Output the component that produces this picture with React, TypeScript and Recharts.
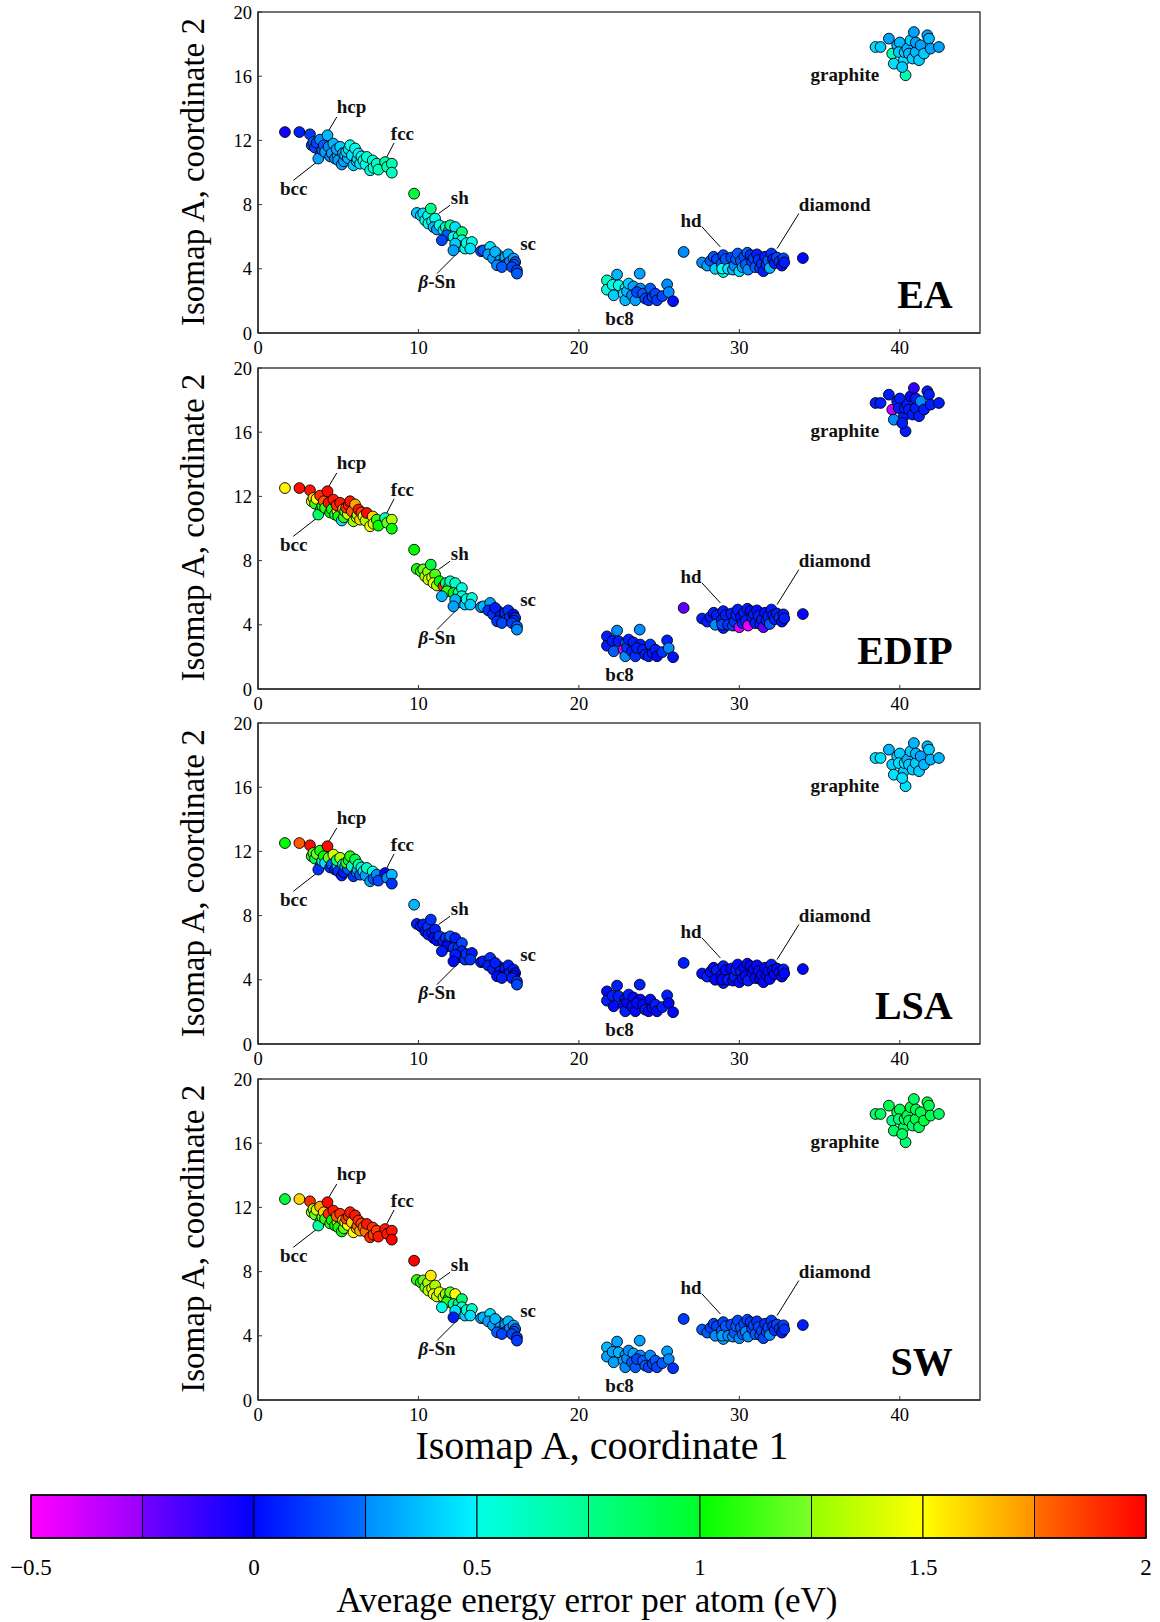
import React from 'react'
import { ScatterChart, Scatter, ComposedChart, Line, XAxis, YAxis, ReferenceLine, ReferenceDot, ReferenceArea } from 'recharts'

// each row: isomap x, isomap y, error per atom (eV) for EA, EDIP, LSA, SW
type Row = [number, number, number, number, number, number]

const bccHcpFcc: Row[] = [
  [1.68, 12.52, -0.04, 1.52, 1.0, 0.95],
  [2.58, 12.52, 0.05, 1.97, 1.8, 1.6],
  [3.24, 12.38, 0.12, 1.95, 1.98, 1.9],
  [3.35, 11.7, 0.15, 1.45, 1.1, 1.25],
  [3.45, 11.9, 0.2, 1.6, 1.15, 1.3],
  [3.55, 11.55, 0.15, 1.1, 0.9, 1.2],
  [3.65, 11.85, 0.15, 1.5, 1.2, 1.4],
  [3.9, 11.15, 0.2, 0.95, 0.15, 1.05],
  [3.76, 10.87, 0.3, 0.85, 0.1, 0.7],
  [3.87, 12.05, 0.25, 1.9, 1.05, 1.7],
  [4.0, 11.4, 0.2, 1.0, 0.55, 1.15],
  [4.1, 11.7, 0.2, 1.8, 1.0, 1.6],
  [4.18, 11.28, 0.3, 1.1, 0.45, 1.1],
  [4.5, 11.0, 0.25, 1.0, 0.1, 1.1],
  [4.4, 11.6, 0.25, 1.95, 1.2, 1.9],
  [4.33, 12.32, 0.35, 1.98, 1.98, 1.98],
  [4.6, 11.2, 0.3, 1.05, 0.2, 1.0],
  [4.7, 11.8, 0.35, 1.95, 1.4, 1.95],
  [4.8, 10.87, 0.25, 0.9, 0.05, 1.0],
  [4.95, 11.1, 0.3, 1.5, 0.4, 1.3],
  [4.9, 11.45, 0.3, 1.9, 0.8, 1.8],
  [5.0, 10.76, 0.3, 1.05, 0.1, 1.05],
  [5.12, 11.6, 0.4, 1.95, 1.3, 1.9],
  [5.22, 10.5, 0.3, 0.45, 0.05, 1.0],
  [5.35, 10.7, 0.3, 1.1, 0.05, 1.2],
  [5.3, 11.2, 0.35, 1.7, 0.5, 1.6],
  [5.43, 11.07, 0.38, 1.2, 0.3, 1.4],
  [5.6, 10.9, 0.35, 1.4, 0.2, 1.5],
  [5.5, 11.3, 0.4, 1.9, 1.1, 1.85],
  [5.65, 11.45, 0.45, 1.95, 0.95, 1.9],
  [5.74, 11.7, 0.5, 1.95, 1.05, 1.95],
  [5.85, 11.07, 0.45, 1.8, 0.6, 1.6],
  [5.95, 10.45, 0.4, 1.25, 0.1, 1.5],
  [6.05, 11.5, 0.5, 1.7, 0.9, 1.95],
  [6.15, 10.7, 0.4, 1.4, 0.25, 1.6],
  [6.2, 10.85, 0.45, 1.3, 0.35, 1.75],
  [6.26, 11.18, 0.48, 1.95, 0.7, 1.9],
  [6.36, 10.55, 0.45, 1.6, 0.2, 1.7],
  [6.45, 11.0, 0.5, 1.85, 0.55, 1.85],
  [6.57, 10.76, 0.5, 1.45, 0.45, 1.8],
  [6.7, 10.5, 0.5, 1.3, 0.3, 1.75],
  [6.78, 10.97, 0.55, 1.98, 0.6, 1.95],
  [6.99, 10.14, 0.5, 1.5, 0.3, 1.9],
  [7.15, 10.75, 0.55, 1.6, 0.5, 1.9],
  [7.2, 10.3, 0.55, 1.4, 0.2, 1.85],
  [7.4, 10.55, 0.6, 1.1, 0.25, 1.85],
  [7.5, 10.18, 0.62, 1.0, 0.15, 1.95],
  [7.92, 10.65, 0.7, 0.65, 0.0, 1.95],
  [8.05, 10.35, 0.65, 1.2, 0.25, 1.95],
  [8.34, 10.55, 0.65, 1.3, 0.35, 1.95],
  [8.34, 9.99, 0.6, 1.0, 0.1, 2.0],
]

const shBetaSnSc: Row[] = [
  [9.73, 8.68, 0.95, 1.0, 0.35, 2.0],
  [9.9, 7.48, 0.4, 1.05, 0.05, 1.1],
  [10.15, 7.33, 0.45, 1.1, 0.05, 1.05],
  [10.3, 7.45, 0.45, 1.2, 0.05, 1.2],
  [10.42, 7.02, 0.5, 1.3, 0.0, 1.2],
  [10.6, 7.3, 0.5, 1.25, 0.1, 1.3],
  [10.62, 6.82, 0.5, 1.35, 0.05, 1.35],
  [10.77, 7.75, 0.75, 0.95, 0.1, 1.55],
  [10.85, 6.95, 0.5, 1.4, 0.05, 1.4],
  [11.04, 7.13, 0.5, 1.15, 0.05, 1.3],
  [10.94, 6.6, 0.35, 1.45, 0.0, 1.45],
  [11.15, 6.45, 0.3, 1.3, 0.0, 1.35],
  [11.31, 6.71, 0.5, 1.0, 0.1, 1.4],
  [11.56, 6.4, 0.45, 1.9, 0.05, 1.3],
  [11.7, 6.6, 0.6, 0.8, 0.1, 1.25],
  [11.9, 6.35, 0.5, 0.7, 0.05, 1.0],
  [11.98, 6.71, 0.75, 0.6, 0.2, 1.2],
  [12.29, 6.6, 0.45, 0.6, 0.05, 1.5],
  [11.77, 6.09, 0.2, 1.1, 0.0, 1.1],
  [11.46, 5.78, 0.15, 0.35, 0.05, 0.5],
  [12.18, 5.98, 0.5, 1.0, 0.1, 0.7],
  [12.5, 6.0, 0.55, 0.65, 0.1, 0.75],
  [12.71, 6.29, 0.8, 0.5, 0.15, 0.8],
  [12.71, 5.78, 0.5, 0.6, 0.05, 0.55],
  [12.6, 5.4, 0.4, 0.45, 0.05, 0.5],
  [12.29, 5.57, 0.4, 0.35, 0.05, 0.45],
  [12.18, 5.15, 0.3, 0.3, 0.0, 0.05],
  [12.91, 5.26, 0.5, 0.4, 0.1, 0.4],
  [13.0, 5.6, 0.55, 0.5, 0.1, 0.6],
  [13.33, 5.67, 0.5, 0.55, 0.05, 0.6],
  [13.23, 5.26, 0.45, 0.4, 0.1, 0.45],
  [13.9, 5.1, 0.15, 0.3, 0.05, 0.3],
  [14.99, 4.84, 0.3, -0.15, 0.0, 0.3],
  [14.05, 5.15, 0.2, 0.35, 0.05, 0.35],
  [14.47, 5.36, 0.45, 0.3, 0.1, 0.45],
  [14.35, 4.9, 0.3, 0.1, 0.05, 0.3],
  [14.65, 4.65, 0.3, 0.1, 0.05, 0.3],
  [14.78, 5.05, 0.35, 0.05, 0.05, 0.35],
  [15.1, 4.53, 0.3, 0.05, 0.05, 0.3],
  [15.3, 4.4, 0.25, 0.05, 0.0, 0.25],
  [15.41, 4.73, 0.35, 0.1, 0.05, 0.3],
  [15.6, 4.9, 0.35, 0.1, 0.05, 0.35],
  [15.51, 4.32, 0.2, 0.15, 0.0, 0.15],
  [15.7, 4.45, 0.25, 0.1, 0.05, 0.25],
  [15.93, 4.64, 0.3, 0.0, 0.05, 0.3],
  [16.03, 4.42, 0.2, 0.1, 0.0, 0.2],
  [15.95, 4.25, 0.2, 0.1, 0.0, 0.2],
  [14.9, 4.22, 0.25, 0.1, 0.0, 0.2],
  [15.2, 4.11, 0.2, 0.15, 0.05, 0.15],
  [15.83, 4.11, 0.15, 0.12, 0.05, 0.15],
  [16.14, 3.9, 0.15, 0.2, 0.1, 0.1],
  [16.14, 3.7, 0.2, 0.25, 0.15, 0.12],
]

const bc8: Row[] = [
  [21.75, 3.28, 0.6, 0.05, 0.0, 0.35],
  [21.75, 2.7, 0.55, 0.05, 0.05, 0.3],
  [22.1, 3.0, 0.5, 0.05, 0.05, 0.3],
  [22.38, 3.64, 0.35, 0.25, 0.05, 0.3],
  [22.17, 2.35, 0.4, 0.2, 0.0, 0.3],
  [22.48, 2.97, 0.5, 0.05, 0.05, 0.35],
  [22.9, 2.8, 0.55, 0.2, 0.05, 0.3],
  [22.79, 2.45, 0.45, -0.4, 0.0, 0.3],
  [22.89, 2.04, 0.35, 0.25, 0.05, 0.25],
  [23.0, 2.6, 0.35, 0.1, 0.0, 0.25],
  [23.1, 3.08, 0.4, 0.05, 0.05, 0.25],
  [23.4, 2.9, 0.3, 0.05, 0.0, 0.3],
  [23.31, 2.35, 0.25, 0.05, 0.0, 0.2],
  [23.52, 2.04, 0.3, 0.1, 0.0, 0.2],
  [23.79, 3.7, 0.3, 0.25, 0.05, 0.3],
  [23.83, 2.77, 0.25, 0.05, 0.0, 0.25],
  [23.62, 2.55, 0.15, 0.05, 0.0, 0.15],
  [24.0, 2.45, 0.2, 0.05, 0.0, 0.2],
  [24.14, 2.14, 0.15, 0.05, 0.05, 0.2],
  [24.45, 2.77, 0.2, 0.1, 0.0, 0.25],
  [24.35, 2.04, 0.1, 0.05, 0.0, 0.15],
  [24.6, 2.25, 0.15, 0.05, 0.0, 0.15],
  [24.77, 2.45, 0.15, 0.05, 0.05, 0.2],
  [24.87, 2.04, 0.12, 0.0, 0.0, 0.15],
  [25.2, 2.3, 0.15, 0.1, 0.05, 0.2],
  [25.5, 3.03, 0.25, 0.05, 0.05, 0.3],
  [25.6, 2.55, 0.25, 0.25, 0.0, 0.25],
  [25.87, 1.98, 0.02, 0.02, 0.0, 0.1],
]

const hdDiamond: Row[] = [
  [26.53, 5.05, 0.25, -0.2, 0.05, 0.12],
  [27.68, 4.39, 0.25, 0.05, 0.02, 0.2],
  [28.0, 4.2, 0.3, 0.05, 0.05, 0.2],
  [28.2, 4.5, 0.2, 0.05, 0.0, 0.15],
  [28.4, 4.75, 0.2, 0.05, 0.0, 0.15],
  [28.6, 4.6, 0.15, 0.05, 0.05, 0.15],
  [28.5, 4.0, 0.4, 0.25, 0.0, 0.25],
  [28.9, 4.3, 0.2, 0.05, 0.0, 0.2],
  [29.0, 4.85, 0.15, 0.05, 0.05, 0.15],
  [29.0, 3.8, 0.5, 0.05, 0.05, 0.3],
  [28.93, 4.01, 0.5, 0.15, 0.0, 0.3],
  [29.15, 4.6, 0.2, 0.05, 0.0, 0.2],
  [29.3, 4.0, 0.45, 0.1, 0.05, 0.25],
  [29.5, 4.7, 0.15, 0.05, 0.0, 0.15],
  [29.6, 3.95, 0.35, 0.15, 0.0, 0.25],
  [29.7, 4.2, 0.25, 0.1, 0.05, 0.2],
  [29.8, 4.6, 0.2, 0.05, 0.05, 0.2],
  [29.9, 4.95, 0.2, 0.05, 0.0, 0.15],
  [30.0, 3.85, 0.45, -0.4, 0.0, 0.25],
  [30.1, 4.5, 0.2, 0.02, 0.05, 0.2],
  [30.2, 4.1, 0.3, 0.05, 0.0, 0.2],
  [30.3, 4.75, 0.15, 0.05, 0.0, 0.15],
  [30.5, 5.0, 0.2, 0.05, 0.0, 0.15],
  [30.4, 4.25, 0.2, 0.05, 0.0, 0.25],
  [30.55, 3.95, 0.25, -0.45, 0.05, 0.25],
  [30.7, 4.85, 0.1, 0.02, 0.0, 0.12],
  [30.8, 4.45, 0.15, 0.05, 0.0, 0.15],
  [30.9, 4.65, 0.15, 0.05, 0.0, 0.15],
  [31.0, 4.1, 0.2, 0.05, 0.0, 0.2],
  [31.1, 4.9, 0.05, 0.02, 0.0, 0.1],
  [31.2, 4.55, 0.1, 0.05, 0.0, 0.15],
  [31.3, 4.05, 0.15, 0.05, 0.0, 0.2],
  [31.4, 4.3, 0.1, 0.05, 0.0, 0.15],
  [31.5, 3.85, 0.05, -0.2, 0.0, 0.15],
  [31.6, 4.75, 0.05, 0.02, 0.0, 0.1],
  [31.7, 4.25, 0.1, 0.05, 0.0, 0.15],
  [31.8, 4.5, 0.2, 0.05, 0.0, 0.15],
  [31.9, 4.05, 0.35, 0.2, 0.0, 0.25],
  [32.0, 4.95, 0.1, 0.05, 0.05, 0.12],
  [32.1, 4.6, 0.05, 0.02, 0.0, 0.1],
  [32.2, 4.35, 0.05, 0.05, 0.0, 0.1],
  [32.35, 4.7, 0.15, 0.05, 0.0, 0.15],
  [32.5, 4.45, 0.1, 0.1, 0.0, 0.1],
  [32.65, 4.2, 0.02, 0.02, 0.0, 0.05],
  [32.75, 4.65, 0.15, 0.05, 0.05, 0.15],
  [32.8, 4.4, 0.05, 0.05, 0.0, 0.1],
  [33.96, 4.67, 0.0, 0.0, 0.0, 0.05],
]

const graphite: Row[] = [
  [38.49, 17.82, 0.45, 0.05, 0.45, 0.85],
  [38.8, 17.82, 0.4, 0.05, 0.45, 0.85],
  [39.32, 18.34, 0.3, 0.05, 0.35, 0.9],
  [39.53, 17.41, 0.65, -0.35, 0.4, 0.75],
  [39.63, 16.78, 0.45, 0.25, 0.45, 0.85],
  [39.84, 17.93, 0.35, 0.05, 0.4, 0.9],
  [40.0, 18.1, 0.35, 0.05, 0.4, 0.9],
  [39.94, 17.5, 0.4, 0.05, 0.45, 0.8],
  [40.26, 17.0, 0.45, 0.05, 0.4, 0.85],
  [40.3, 17.5, 0.4, 0.05, 0.45, 0.85],
  [40.36, 16.06, 0.65, 0.05, 0.45, 0.8],
  [40.15, 16.57, 0.4, 0.05, 0.45, 0.85],
  [40.47, 17.72, 0.35, 0.05, 0.35, 0.9],
  [40.57, 17.41, 0.35, 0.05, 0.4, 0.9],
  [40.67, 18.24, 0.4, 0.0, 0.4, 0.95],
  [40.8, 17.1, 0.4, 0.05, 0.4, 0.85],
  [40.88, 18.75, 0.3, -0.1, 0.35, 0.85],
  [40.99, 17.5, 0.35, 0.05, 0.4, 0.9],
  [41.0, 18.1, 0.3, 0.05, 0.35, 0.9],
  [41.2, 17.0, 0.4, 0.05, 0.4, 0.85],
  [41.3, 17.93, 0.3, 0.25, 0.3, 0.9],
  [41.51, 17.41, 0.4, 0.05, 0.35, 0.95],
  [41.72, 18.55, 0.3, 0.05, 0.35, 0.95],
  [41.82, 18.34, 0.35, 0.05, 0.4, 0.9],
  [41.92, 17.72, 0.3, 0.05, 0.35, 0.9],
  [42.44, 17.82, 0.3, 0.05, 0.35, 0.85],
]

const potentials = ['EA', 'EDIP', 'LSA', 'SW']
const xTicks = [0, 10, 20, 30, 40]
const yTicks = [0, 4, 8, 12, 16, 20]
const cbarTicks = [-0.5, 0, 0.5, 1, 1.5, 2]

// phase names: text start (x, baseline y) in data units
const phaseLabels = [
  { text: 'hcp', x: 4.91, y: 13.71 },
  { text: 'fcc', x: 8.28, y: 12.0 },
  { text: 'bcc', x: 1.37, y: 8.58 },
  { text: 'sh', x: 12.02, y: 8.02 },
  { text: 'sc', x: 16.34, y: 5.15 },
  { text: 'β-Sn', x: 10.0, y: 2.83 },
  { text: 'bc8', x: 21.65, y: 0.48 },
  { text: 'hd', x: 26.33, y: 6.6 },
  { text: 'diamond', x: 33.71, y: 7.6 },
  { text: 'graphite', x: 34.44, y: 15.7 },
]

const leaderLines = [
  { x1: 4.91, y1: 13.46, x2: 4.29, y2: 12.42 },
  { x1: 8.48, y1: 11.84, x2: 8.03, y2: 10.97 },
  { x1: 2.2, y1: 9.51, x2: 3.66, y2: 10.65 },
  { x1: 11.97, y1: 7.96, x2: 11.25, y2: 7.44 },
  { x1: 11.15, y1: 3.7, x2: 12.29, y2: 4.84 },
  { x1: 27.68, y1: 6.6, x2: 28.82, y2: 5.36 },
  { x1: 33.71, y1: 7.44, x2: 32.35, y2: 5.26 },
]

// colour bar: ten 0.25 eV steps, each a linear ramp
const cbarSegments = [
  { from: -0.5, to: -0.25, left: '#ff00ff', right: '#9a00ff' },
  { from: -0.25, to: 0, left: '#7400ff', right: '#0000ff' },
  { from: 0, to: 0.25, left: '#0008ff', right: '#0070ff' },
  { from: 0.25, to: 0.5, left: '#008cff', right: '#00f6ff' },
  { from: 0.5, to: 0.75, left: '#00ffe6', right: '#00ff90' },
  { from: 0.75, to: 1, left: '#00ff88', right: '#00ff28' },
  { from: 1, to: 1.25, left: '#00ff00', right: '#7cff28' },
  { from: 1.25, to: 1.5, left: '#96ff00', right: '#ffff00' },
  { from: 1.5, to: 1.75, left: '#ffff00', right: '#ff9200' },
  { from: 1.75, to: 2, left: '#ff6e00', right: '#ff0000' },
]

const allRows = [...bccHcpFcc, ...shBetaSnSc, ...bc8, ...hdDiamond, ...graphite]

const serif = '"Liberation Serif", "DejaVu Serif", serif'

function hexToRgb(h: string) {
  const n = parseInt(h.slice(1), 16)
  return [(n >> 16) & 255, (n >> 8) & 255, n & 255]
}

function errColor(v: number) {
  const c = Math.max(-0.5, Math.min(2, v))
  const i = Math.min(cbarSegments.length - 1, Math.floor((c + 0.5) / 0.25))
  const s = cbarSegments[i]
  const t = (c - s.from) / (s.to - s.from)
  const a = hexToRgb(s.left)
  const b = hexToRgb(s.right)
  const m = a.map((ch, k) => Math.round(ch + (b[k] - ch) * t))
  return `rgb(${m[0]},${m[1]},${m[2]})`
}

const tickStyle = { fill: '#000', fontSize: 18.5, fontFamily: serif }

function Panel({ idx }: { idx: number }) {
  const data = allRows.map((r) => ({ x: r[0], y: r[1], e: r[2 + idx] }))
  return (
    <ScatterChart width={1160} height={366} margin={{ top: 12, right: 180, bottom: 0, left: 218 }}>
      <XAxis
        type="number"
        dataKey="x"
        domain={[0, 45]}
        ticks={xTicks}
        interval={0}
        tickSize={-4}
        tickMargin={12}
        height={33}
        axisLine={{ stroke: '#333', strokeWidth: 1.5 }}
        tickLine={{ stroke: '#333' }}
        tick={tickStyle}
        allowDataOverflow
      />
      <YAxis
        type="number"
        dataKey="y"
        domain={[0, 20]}
        ticks={yTicks}
        interval={0}
        tickSize={-4}
        tickMargin={10}
        width={40}
        axisLine={{ stroke: '#333', strokeWidth: 1.5 }}
        tickLine={{ stroke: '#333' }}
        tick={tickStyle}
        allowDataOverflow
      />
      <ReferenceArea x1={0} x2={45} y1={0} y2={20} fill="none" stroke="#444" strokeWidth={1.5} />
      {leaderLines.map((l, i) => (
        <ReferenceLine
          key={`ld-${i}`}
          segment={[{ x: l.x1, y: l.y1 }, { x: l.x2, y: l.y2 }]}
          stroke="#000"
          strokeWidth={1}
        />
      ))}
      <Scatter
        data={data}
        isAnimationActive={false}
        shape={(p: any) => (
          <circle cx={p.cx} cy={p.cy} r={5.4} fill={errColor(p.payload.e)} stroke="#000" strokeWidth={0.9} />
        )}
      />
      {phaseLabels.map((l) => (
        <ReferenceDot
          key={l.text}
          x={l.x}
          y={l.y}
          r={0}
          shape={(p: any) => (
            <text x={p.cx} y={p.cy} fontFamily={serif} fontWeight="bold" fontSize={19} fill="#111">
              {l.text === 'β-Sn' ? (
                <>
                  <tspan fontStyle="italic">β</tspan>-Sn
                </>
              ) : (
                l.text
              )}
            </text>
          )}
        />
      ))}
      <ReferenceDot
        x={43.3}
        y={1.54}
        r={0}
        shape={(p: any) => (
          <text x={p.cx} y={p.cy} textAnchor="end" fontFamily={serif} fontWeight="bold" fontSize={40} fill="#000">
            {potentials[idx]}
          </text>
        )}
      />
    </ScatterChart>
  )
}

function ColorBar() {
  // two end points give both axes a data range for the reference areas
  const data = [
    { v: -0.5, b: 0 },
    { v: 2, b: 1 },
  ]
  return (
    <ComposedChart width={1160} height={108} margin={{ top: 15, right: 14, bottom: 0, left: 31 }} data={data}>
      <defs>
        {cbarSegments.map((s, i) => (
          <linearGradient key={i} id={`cb${i}`} x1="0" y1="0" x2="1" y2="0">
            <stop offset="0%" stopColor={s.left} />
            <stop offset="100%" stopColor={s.right} />
          </linearGradient>
        ))}
      </defs>
      <XAxis
        type="number"
        dataKey="v"
        domain={[-0.5, 2]}
        ticks={cbarTicks}
        interval={0}
        axisLine={false}
        tickLine={false}
        tickSize={0}
        tickMargin={21}
        height={50}
        tick={{ fill: '#000', fontSize: 23, fontFamily: serif }}
        tickFormatter={(v: number) => String(v).replace('-', '\u2212')}
        allowDataOverflow
      />
      <YAxis hide type="number" dataKey="b" domain={[0, 1]} allowDataOverflow />
      <Line dataKey="b" stroke="none" dot={false} activeDot={false} isAnimationActive={false} />
      {cbarSegments.map((s, i) => (
        <ReferenceArea
          key={i}
          x1={s.from}
          x2={s.to}
          y1={0}
          y2={1}
          ifOverflow="visible"
          fill={`url(#cb${i})`}
          fillOpacity={1}
          stroke="#000"
          strokeWidth={1}
        />
      ))}
      <ReferenceArea x1={-0.5} x2={2} y1={0} y2={1} ifOverflow="visible" fill="none" stroke="#000" strokeWidth={1.5} />
    </ComposedChart>
  )
}

export default function App() {
  const panelTops = potentials.map((_, i) => Math.round(i * 355.6))
  return (
    <div style={{ position: 'absolute', left: 0, top: 0, width: 1160, height: 1622, background: '#fff' }}>
      {potentials.map((p, i) => (
        <div key={p} style={{ position: 'absolute', left: 0, top: panelTops[i] }}>
          <Panel idx={i} />
        </div>
      ))}
      <div style={{ position: 'absolute', left: 0, top: 1480 }}>
        <ColorBar />
      </div>
      <svg width={1160} height={1622} style={{ position: 'absolute', left: 0, top: 0, pointerEvents: 'none' }}>
        {potentials.map((p, i) => (
          <text
            key={p}
            transform={`translate(204, ${172 + i * 355.6}) rotate(-90)`}
            textAnchor="middle"
            fontFamily={serif}
            fontSize={33}
            fill="#000"
          >
            Isomap A, coordinate 2
          </text>
        ))}
        <text x={602} y={1459} textAnchor="middle" fontFamily={serif} fontSize={40} fill="#000">
          Isomap A, coordinate 1
        </text>
        <text x={587} y={1612} textAnchor="middle" fontFamily={serif} fontSize={35} fill="#000">
          Average energy error per atom (eV)
        </text>
      </svg>
    </div>
  )
}
